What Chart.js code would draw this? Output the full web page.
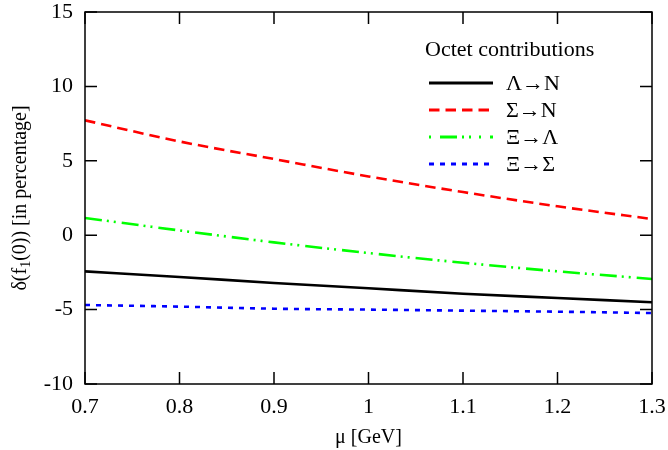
<!DOCTYPE html>
<html>
<head>
<meta charset="utf-8">
<script src="https://cdn.jsdelivr.net/npm/chart.js@4"></script>
<style>
  html, body { margin: 0; padding: 0; background: #fff; }
  #wrap { width: 668px; height: 450px; }
</style>
</head>
<body>
<div id="wrap"><canvas id="c"></canvas></div>
<script>
const mu = [0.7, 0.8, 0.9, 1.0, 1.1, 1.2, 1.3];
const lambdaN = [-2.43, -2.81, -3.21, -3.57, -3.93, -4.22, -4.51];
const sigmaN = [7.72, 6.3, 5.12, 3.95, 2.9, 1.94, 1.09];
const xiLambda = [1.16, 0.32, -0.48, -1.2, -1.85, -2.43, -2.94];
const xiSigma = [-4.69, -4.8, -4.94, -5.0, -5.07, -5.14, -5.23];
const xTicks = [0.7, 0.8, 0.9, 1.0, 1.1, 1.2, 1.3];
const yTicks = [-10, -5, 0, 5, 10, 15];

const FONT = "'Liberation Serif', 'Times New Roman', serif";

const pts = (ys) => mu.map((x, i) => ({ x: x, y: ys[i] }));

// gnuplot style frame, inward ticks on all four sides, titles and legend
const framePlugin = {
  id: "frame",
  afterDraw(chart) {
    const ctx = chart.ctx;
    const a = chart.chartArea;
    const xs = chart.scales.x, ys = chart.scales.y;
    const tl = 12;
    ctx.save();
    ctx.strokeStyle = "#000";
    ctx.lineWidth = 1.5;
    ctx.strokeRect(a.left, a.top, a.right - a.left, a.bottom - a.top);
    ctx.beginPath();
    xTicks.forEach((v) => {
      const px = xs.getPixelForValue(v);
      ctx.moveTo(px, a.bottom); ctx.lineTo(px, a.bottom - tl);
      ctx.moveTo(px, a.top); ctx.lineTo(px, a.top + tl);
    });
    yTicks.forEach((v) => {
      const py = ys.getPixelForValue(v);
      ctx.moveTo(a.left, py); ctx.lineTo(a.left + tl, py);
      ctx.moveTo(a.right, py); ctx.lineTo(a.right - tl, py);
    });
    ctx.stroke();

    // axis titles
    ctx.fillStyle = "#000";
    ctx.font = "20px " + FONT;
    ctx.textAlign = "center";
    ctx.textBaseline = "middle";
    ctx.fillText("\u03bc [GeV]", (a.left + a.right) / 2, 438);

    ctx.save();
    ctx.translate(19, (a.top + a.bottom) / 2);
    ctx.rotate(-Math.PI / 2);
    const p1 = "\u03b4(f", p2 = "1", p3 = "(0)) [in percentage]";
    ctx.font = "20px " + FONT;
    const w1 = ctx.measureText(p1).width, w3 = ctx.measureText(p3).width;
    ctx.font = "14px " + FONT;
    const w2 = ctx.measureText(p2).width;
    let x0 = -(w1 + w2 + w3) / 2;
    ctx.textAlign = "left";
    ctx.textBaseline = "alphabetic";
    ctx.font = "20px " + FONT;
    ctx.fillText(p1, x0, 7);
    ctx.font = "14px " + FONT;
    ctx.fillText(p2, x0 + w1, 11);
    ctx.font = "20px " + FONT;
    ctx.fillText(p3, x0 + w1 + w2, 7);
    ctx.restore();

    // legend
    ctx.font = "22px " + FONT;
    ctx.textAlign = "left";
    ctx.textBaseline = "middle";
    ctx.fillText("Octet contributions", 425, 50);
    chart.data.datasets.forEach((ds, i) => {
      const y = 83 + i * 27;
      ctx.save();
      ctx.strokeStyle = ds.borderColor;
      ctx.lineWidth = 3;
      ctx.setLineDash(ds.legendDash || ds.borderDash || []);
      ctx.beginPath();
      ctx.moveTo(429, y);
      ctx.lineTo(493, y);
      ctx.stroke();
      ctx.restore();
      ctx.fillText(ds.label, 506, y + 1);
    });
    ctx.restore();
  }
};

const noPad = (s) => { s.paddingTop = 0; s.paddingBottom = 0; s.paddingLeft = 0; s.paddingRight = 0; };

new Chart(document.getElementById("c"), {
  type: "line",
  data: {
    datasets: [
      { label: "\u039b\u2192N", data: pts(lambdaN), borderColor: "#000000", borderWidth: 2.6 },
      { label: "\u03a3\u2192N", data: pts(sigmaN), borderColor: "#ff0000", borderWidth: 2.6, borderDash: [10.5, 6] },
      { label: "\u039e\u2192\u039b", data: pts(xiLambda), borderColor: "#00ff00", borderWidth: 2.6,
        borderDash: [17, 5, 2, 5, 2, 6], legendDash: [2, 9, 17, 5, 2, 5, 2, 8] },
      { label: "\u039e\u2192\u03a3", data: pts(xiSigma), borderColor: "#0000ff", borderWidth: 2.6, borderDash: [5, 6] }
    ]
  },
  options: {
    responsive: true,
    maintainAspectRatio: false,
    animation: false,
    devicePixelRatio: 1,
    layout: { padding: { top: 12, right: 16, left: 0, bottom: 0 } },
    elements: {
      point: { radius: 0 },
      line: { tension: 0.4, cubicInterpolationMode: "monotone", fill: false }
    },
    plugins: { legend: { display: false }, tooltip: { enabled: false } },
    scales: {
      x: {
        type: "linear",
        min: 0.7,
        max: 1.3,
        afterFit: (s) => { s.height = 66; noPad(s); },
        afterBuildTicks: (s) => { s.ticks = xTicks.map((v) => ({ value: v })); },
        grid: { display: false, drawTicks: false },
        border: { display: false },
        ticks: {
          color: "#000",
          padding: 10,
          font: { family: FONT, size: 22 },
          callback: (v) => String(+v.toFixed(1))
        }
      },
      y: {
        min: -10,
        max: 15,
        afterFit: (s) => { s.width = 85; noPad(s); },
        afterBuildTicks: (s) => { s.ticks = yTicks.map((v) => ({ value: v })); },
        grid: { display: false, drawTicks: false },
        border: { display: false },
        ticks: {
          color: "#000",
          padding: 12,
          font: { family: FONT, size: 22 }
        }
      }
    }
  },
  plugins: [framePlugin]
});
</script>
</body>
</html>
